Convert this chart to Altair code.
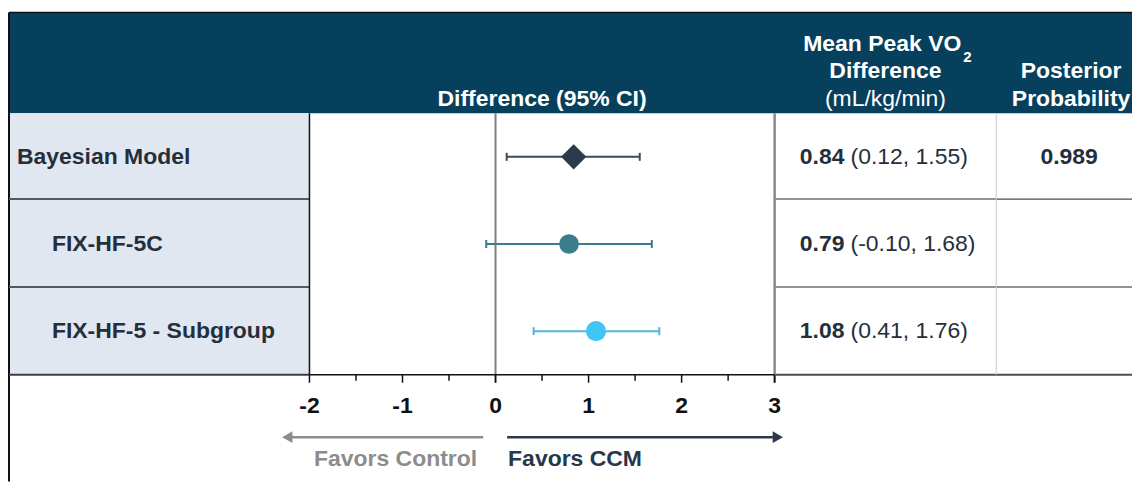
import altair as alt
import pandas as pd

# ---------------- data ----------------
studies = ["Bayesian Model", "FIX-HF-5C", "FIX-HF-5 - Subgroup"]
means = [0.84, 0.79, 1.08]
lows = [0.12, -0.10, 0.41]
highs = [1.55, 1.68, 1.76]
posterior = ["0.989", "", ""]
marker_shapes = ["diamond", "circle", "circle"]
marker_sizes = [640, 390, 410]
marker_colors = ["#2B3B4B", "#3A7D8C", "#40C6F6"]
ci_colors = ["#3C4A58", "#3A7D8C", "#4FB7DE"]
label_indent = [False, True, True]
major_ticks = [-2, -1, 0, 1, 2, 3]
minor_ticks = [-1.5, -0.5, 0.5, 1.5, 2.5]

# ---------------- layout helpers ----------------
FONT = "Liberation Sans"
FS = 23
HEADER_BG = "#07405C"
LABEL_BG = "#E1E7F0"
DARK_TEXT = "#242F3B"
ROW_H = 87.333
PX_UNIT = 93.2
RIGHT = 1133
BOTTOM = 482


def ux(px):
    return -2 + (px - 309) / PX_UNIT


def uy(py):
    return -0.5 + (py - 113) / ROW_H


xs = alt.Scale(domain=[-2, 3], range=[301, 767], zero=False, nice=False)
ys = alt.Scale(domain=[-0.5, 2.5], range=[105, 367], zero=False, nice=False)


def X(f="x"):
    return alt.X(f"{f}:Q", scale=xs, axis=None)


def Y(f="y"):
    return alt.Y(f"{f}:Q", scale=ys, axis=None)


# ---------------- background rects ----------------
rect_df = pd.DataFrame([
    dict(x=ux(8), x2=ux(RIGHT), y=uy(12), y2=uy(113), c=HEADER_BG),
    dict(x=ux(8), x2=ux(309), y=uy(113), y2=uy(375), c=LABEL_BG),
])
rects = alt.Chart(rect_df).mark_rect().encode(
    x=X(), x2="x2", y=Y(), y2="y2", color=alt.Color("c:N", scale=None)
)

# ---------------- table lines ----------------
line_rows = [
    # x, x2, y, y2, color, width
    (8, RIGHT, 12, 12, "#111111", 1.5),
    (8, 8, 12, BOTTOM, "#111111", 2),
    (8, 309, 199, 199, "#4F5B66", 2),
    (8, 309, 287, 287, "#4F5B66", 2),
    (775, 997, 199, 199, "#8E9399", 2),
    (775, 997, 287, 287, "#8E9399", 2),
    (997, RIGHT, 199, 199, "#3E4D5C", 1.2),
    (997, RIGHT, 287, 287, "#8E9399", 2),
    (8, 309, 375, 375, "#36414C", 2),
    (775, RIGHT, 375, 375, "#4A4F55", 2),
    (309, 309, 113, 375, "#111111", 1.5),
    (775, 775, 113, 383, "#8A8A8A", 2.5),
    (997, 997, 113, 375, "#CACACA", 1),
]
lines_df = pd.DataFrame(
    [dict(x=ux(a), x2=ux(b), y=uy(c), y2=uy(d), c=col, w=w) for a, b, c, d, col, w in line_rows]
)
lines = alt.Chart(lines_df).mark_rule().encode(
    x=X(), x2="x2", y=Y(), y2="y2",
    color=alt.Color("c:N", scale=None),
    strokeWidth=alt.StrokeWidth("w:Q", scale=None),
)

# zero reference line
zero_df = pd.DataFrame({"x": [0], "y": [uy(113)], "y2": [uy(383)]})
zero_line = alt.Chart(zero_df).mark_rule(color="#7F7F7F", strokeWidth=2).encode(
    x=X(), y=Y(), y2="y2"
)

# axis line + ticks
axis_df = pd.DataFrame({"x": [major_ticks[0]], "x2": [major_ticks[-1]], "y": [uy(375)]})
axis_line = alt.Chart(axis_df).mark_rule(color="#111111", strokeWidth=1.5).encode(
    x=X(), x2="x2", y=Y()
)
maj_df = pd.DataFrame({"x": major_ticks, "y": uy(375), "y2": uy(383)})
maj = alt.Chart(maj_df).mark_rule(color="#111111", strokeWidth=1.5).encode(
    x=X(), y=Y(), y2="y2"
)
min_df = pd.DataFrame({"x": minor_ticks, "y": uy(375), "y2": uy(381)})
mins = alt.Chart(min_df).mark_rule(color="#111111", strokeWidth=1.5).encode(
    x=X(), y=Y(), y2="y2"
)
tl_df = pd.DataFrame({"x": major_ticks, "y": uy(406), "t": [str(v) for v in major_ticks]})
tick_labels = alt.Chart(tl_df).mark_text(
    font=FONT, fontSize=FS, fontWeight="bold", color="#111111", align="center", baseline="middle"
).encode(x=X(), y=Y(), text="t:N")

# ---------------- forest plot marks ----------------
rows = list(range(len(studies)))
data_df = pd.DataFrame({
    "row": rows, "study": studies, "mean": means, "low": lows, "high": highs,
    "shape": marker_shapes, "size": marker_sizes, "mc": marker_colors, "cc": ci_colors,
})
CAP = 4 / ROW_H
data_df["cap_top"] = data_df["row"] - CAP
data_df["cap_bot"] = data_df["row"] + CAP

base = alt.Chart(data_df)
ci = base.mark_rule(strokeWidth=2).encode(
    x=X("low"), x2="high", y=Y("row"), color=alt.Color("cc:N", scale=None)
)
cap_lo = base.mark_rule(strokeWidth=2).encode(
    x=X("low"), y=Y("cap_top"), y2="cap_bot", color=alt.Color("cc:N", scale=None)
)
cap_hi = base.mark_rule(strokeWidth=2).encode(
    x=X("high"), y=Y("cap_top"), y2="cap_bot", color=alt.Color("cc:N", scale=None)
)
pts = base.mark_point(filled=True, opacity=1, strokeWidth=0).encode(
    x=X("mean"), y=Y("row"),
    shape=alt.Shape("shape:N", scale=None),
    size=alt.Size("size:Q", scale=None),
    color=alt.Color("mc:N", scale=None),
)

# ---------------- row labels ----------------
lab_df = pd.DataFrame({
    "x": [ux(51) if ind else ux(16) for ind in label_indent],
    "y": rows, "t": studies,
})
row_labels = alt.Chart(lab_df).mark_text(
    font=FONT, fontSize=FS, fontWeight="bold", color=DARK_TEXT, align="left", baseline="middle"
).encode(x=X(), y=Y(), text="t:N")

# ---------------- value columns ----------------
val_df = pd.DataFrame({
    "xb": ux(845), "xn": ux(851), "y": rows,
    "b": [f"{m:.2f}" for m in means],
    "n": [f"({l:.2f}, {h:.2f})" for l, h in zip(lows, highs)],
})
val_bold = alt.Chart(val_df).mark_text(
    font=FONT, fontSize=FS, fontWeight="bold", color=DARK_TEXT, align="right", baseline="middle"
).encode(x=X("xb"), y=Y(), text="b:N")
val_norm = alt.Chart(val_df).mark_text(
    font=FONT, fontSize=FS, color=DARK_TEXT, align="left", baseline="middle"
).encode(x=X("xn"), y=Y(), text="n:N")

post_df = pd.DataFrame({"x": ux(1070), "y": rows, "t": posterior})
post = alt.Chart(post_df).mark_text(
    font=FONT, fontSize=FS, fontWeight="bold", color=DARK_TEXT, align="center", baseline="middle"
).encode(x=X(), y=Y(), text="t:N")

# ---------------- header texts ----------------
hdr_bold_df = pd.DataFrame([
    dict(x=0.5, y=uy(99), t="Difference (95% CI)"),
    dict(x=ux(886), y=uy(71), t="Difference"),
    dict(x=ux(1072), y=uy(71), t="Posterior"),
    dict(x=ux(1072), y=uy(99), t="Probability"),
])
hdr_bold = alt.Chart(hdr_bold_df).mark_text(
    font=FONT, fontSize=FS, fontWeight="bold", color="white", align="center", baseline="middle"
).encode(x=X(), y=Y(), text="t:N")
hdr_vo = alt.Chart(pd.DataFrame([dict(x=ux(962), y=uy(44), t="Mean Peak VO")])).mark_text(
    font=FONT, fontSize=FS, fontWeight="bold", color="white", align="right", baseline="middle"
).encode(x=X(), y=Y(), text="t:N")
hdr_sub = alt.Chart(pd.DataFrame([dict(x=ux(964), y=uy(57), t="2")])).mark_text(
    font=FONT, fontSize=15, fontWeight="bold", color="white", align="left", baseline="middle"
).encode(x=X(), y=Y(), text="t:N")
hdr_unit = alt.Chart(pd.DataFrame([dict(x=ux(886), y=uy(99), t="(mL/kg/min)")])).mark_text(
    font=FONT, fontSize=FS, color="white", align="center", baseline="middle"
).encode(x=X(), y=Y(), text="t:N")

# ---------------- favours arrows ----------------
arrow_df = pd.DataFrame([
    dict(x=ux(483), x2=ux(287), y=uy(437.5), c="#8C8C8C", hx=ux(286.8), shape="triangle-left"),
    dict(x=ux(507), x2=ux(778), y=uy(437.5), c="#2C3A48", hx=ux(778.2), shape="triangle-right"),
])
arrows = alt.Chart(arrow_df).mark_rule(strokeWidth=2.5).encode(
    x=X(), x2="x2", y=Y(), color=alt.Color("c:N", scale=None)
)
heads = alt.Chart(arrow_df).mark_point(filled=True, opacity=1, size=140, strokeWidth=0).encode(
    x=X("hx"), y=Y(), shape=alt.Shape("shape:N", scale=None), color=alt.Color("c:N", scale=None)
)
fav_l = alt.Chart(pd.DataFrame([dict(x=ux(477), y=uy(459), t="Favors Control")])).mark_text(
    font=FONT, fontSize=FS, fontWeight="bold", color="#8C8C8C", align="right", baseline="middle"
).encode(x=X(), y=Y(), text="t:N")
fav_r = alt.Chart(pd.DataFrame([dict(x=ux(508), y=uy(459), t="Favors CCM")])).mark_text(
    font=FONT, fontSize=FS, fontWeight="bold", color="#26384A", align="left", baseline="middle"
).encode(x=X(), y=Y(), text="t:N")

chart = alt.layer(
    rects, lines, zero_line, axis_line, maj, mins, tick_labels,
    ci, cap_lo, cap_hi, pts,
    row_labels, val_bold, val_norm, post,
    hdr_bold, hdr_vo, hdr_sub, hdr_unit,
    arrows, heads, fav_l, fav_r,
).properties(
    width=1125, height=474, padding=0, background="white"
).configure_view(stroke=None)

chart.save("out.html", embed_options={"renderer": "svg", "actions": False})
